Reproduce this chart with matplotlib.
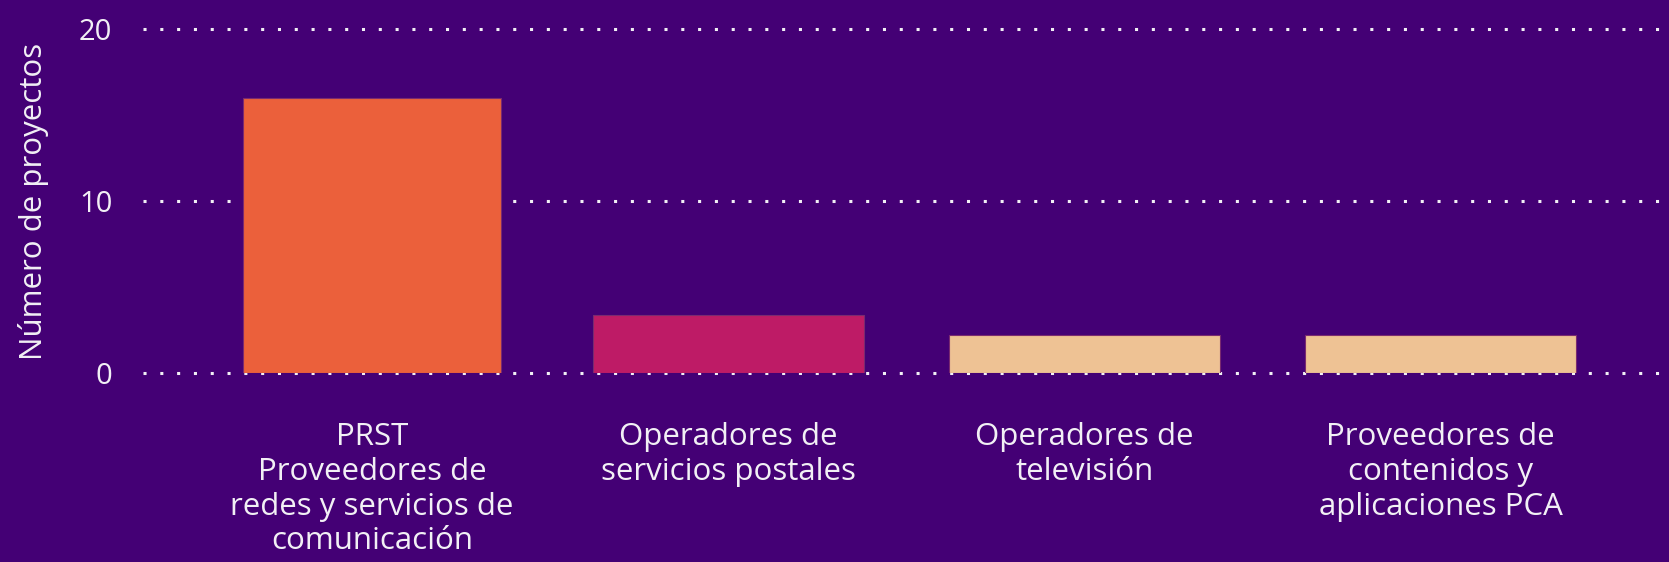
import numpy as np
import matplotlib
matplotlib.use('Agg')
import matplotlib.pyplot as plt

# data
categories = ['PRST\nProveedores de\nredes y servicios de\ncomunicación',
              'Operadores de\nservicios postales',
              'Operadores de\ntelevisión',
              'Proveedores de\ncontenidos y\naplicaciones PCA']
values = [16, 3.4, 2.2, 2.2]
bar_colors = ['#EB603B', '#BE1B66', '#EEC294', '#EEC294']
yticks = [0, 10, 20]

bg = '#440075'
txt = '#F2F0F5'

plt.rcParams['font.family'] = ['Open Sans', 'DejaVu Sans']

fig = plt.figure(figsize=(16.69, 5.62), dpi=100, facecolor=bg)
ax = fig.add_axes([0.0857, 0.3358, 0.9089, 0.6121], facecolor=bg)

x = np.arange(len(categories))
ax.bar(x, values, width=[0.725, 0.76, 0.76, 0.76], color=bar_colors,
       edgecolor='#7a2a70', linewidth=0.8, zorder=3)

ax.set_xlim(-0.643, 3.616)
ax.set_ylim(0, 20)
ax.set_yticks(yticks)
ax.set_xticks(x)
ax.set_xticklabels(categories, linespacing=1.21, fontsize=22.5)

for y in yticks:
    ax.axhline(y, color='#F2F0F5', lw=2.2, linestyle=(0, (1, 4.5)),
               dash_capstyle='butt', zorder=1, clip_on=False)

for s in ax.spines.values():
    s.set_visible(False)
ax.tick_params(axis='both', length=0, colors=txt)
ax.tick_params(axis='y', pad=22, labelsize=21)
ax.tick_params(axis='x', pad=35)
ax.set_ylabel('Número de proyectos', color=txt, fontsize=22.5, labelpad=22)

fig.savefig('out.png', dpi=100, facecolor=bg)
